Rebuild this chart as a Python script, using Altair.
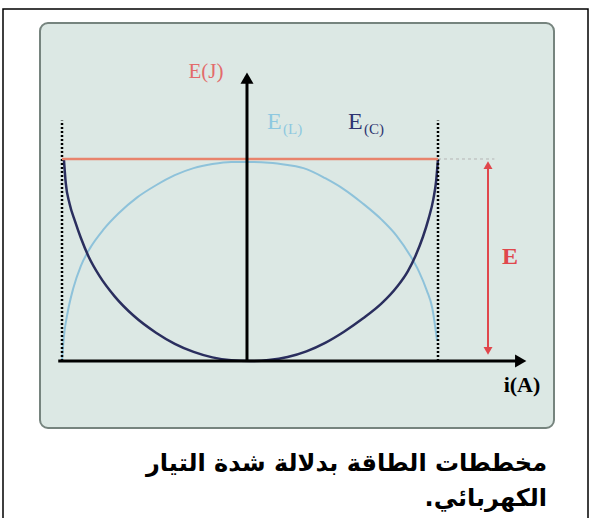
import altair as alt
import pandas as pd

# Energy curves of an LC circuit vs current (normalised: i / I_max, E / E_total)
i_cap = [-0.99, -0.98, -0.96, -0.93, -0.90, -0.86, -0.80, -0.72, -0.62, -0.50, -0.40, -0.30,
         -0.20, -0.10, 0.0, 0.10, 0.20, 0.30, 0.40, 0.50, 0.60, 0.70, 0.78, 0.84, 0.88,
         0.92, 0.95, 0.975, 0.99, 1.0]
e_cap = [1.0, 0.88, 0.78, 0.69, 0.61, 0.52, 0.42, 0.32, 0.225, 0.14, 0.085, 0.045,
         0.018, 0.004, 0.0, 0.005, 0.02, 0.048, 0.09, 0.145, 0.21, 0.285, 0.365, 0.445, 0.52,
         0.615, 0.705, 0.80, 0.89, 1.0]

i_ind = [-1.0, -0.99, -0.97, -0.94, -0.90, -0.85, -0.78, -0.70, -0.60, -0.50, -0.40, -0.30,
         -0.20, -0.10, 0.0, 0.10, 0.20, 0.30, 0.40, 0.50, 0.60, 0.70, 0.78, 0.85, 0.90,
         0.94, 0.97, 0.995]
e_ind = [0.0, 0.12, 0.24, 0.36, 0.47, 0.56, 0.65, 0.73, 0.81, 0.87, 0.92, 0.955,
         0.975, 0.985, 0.985, 0.982, 0.97, 0.95, 0.905, 0.85, 0.78, 0.70, 0.62, 0.525, 0.44,
         0.35, 0.26, 0.10]

e_total = 1.0           # total energy E
i_limits = [-1.0, 1.0]  # current extremes (dotted verticals)

caption_1 = "مخططات الطاقة بدلالة شدة التيار"
caption_2 = "الكهربائي.\u200f"

W, H = 592, 518
xs = alt.Scale(domain=[-250 / 188, 342 / 188])
ys = alt.Scale(domain=[(361 - H) / 202, 361 / 202])
X = lambda f: alt.X(f, type="quantitative", scale=xs, axis=None)
Y = lambda f: alt.Y(f, type="quantitative", scale=ys, axis=None)
X2 = lambda f: alt.X2(f)
Y2 = lambda f: alt.Y2(f)

one = pd.DataFrame({"k": [0]})

frame = alt.Chart(one).mark_rect(fill="white", stroke="black", strokeWidth=1.5).encode(
    x=alt.value(3), x2=alt.value(588), y=alt.value(9), y2=alt.value(525))
panel = alt.Chart(one).mark_rect(fill="#dce8e4", stroke="#76847e", strokeWidth=2,
                                 cornerRadius=8).encode(
    x=alt.value(40), x2=alt.value(554), y=alt.value(23), y2=alt.value(428))

cap_df = pd.DataFrame({"i": i_cap, "E": e_cap})
ind_df = pd.DataFrame({"i": i_ind, "E": e_ind})

ind_line = alt.Chart(ind_df).mark_line(color="#8ec2da", strokeWidth=2,
                                       interpolate="monotone").encode(x=X("i"), y=Y("E"))
cap_line = alt.Chart(cap_df).mark_line(color="#2a2e5e", strokeWidth=2.5,
                                       interpolate="monotone").encode(x=X("i"), y=Y("E"))

lim_df = pd.DataFrame({"i": i_limits, "lo": [0, 0], "hi": [1.19, 1.19]})
dotted = alt.Chart(lim_df).mark_rule(color="black", strokeWidth=2.5, strokeDash=[2, 2]).encode(
    x=X("i"), y=Y("lo"), y2=Y2("hi"))

tot_df = pd.DataFrame({"a": [i_limits[0]], "b": [i_limits[1]], "E": [e_total],
                       "c": [1.30]})
total_line = alt.Chart(tot_df).mark_rule(color="#e8836c", strokeWidth=2.5).encode(
    x=X("a"), x2=X2("b"), y=Y("E"))
total_ext = alt.Chart(tot_df).mark_rule(color="#b5b5b5", strokeWidth=1,
                                        strokeDash=[3, 3]).encode(
    x=X("b"), x2=X2("c"), y=Y("E"))

# axes with arrow heads
ax_df = pd.DataFrame({"x0": [-1.02], "x1": [1.44], "y0": [0.0], "y1": [1.40], "o": [-0.016]})
x_axis = alt.Chart(ax_df).mark_rule(color="black", strokeWidth=3).encode(
    x=X("x0"), x2=X2("x1"), y=Y("y0"))
y_axis = alt.Chart(ax_df).mark_rule(color="black", strokeWidth=3).encode(
    x=X("o"), y=Y("y0"), y2=Y2("y1"))
x_head = alt.Chart(ax_df).mark_point(shape="triangle-right", filled=True, color="black",
                                     size=170, opacity=1).encode(x=X("x1"), y=Y("y0"))
y_head = alt.Chart(ax_df).mark_point(shape="triangle-up", filled=True, color="black",
                                     size=170, opacity=1).encode(x=X("o"), y=Y("y1"))

# double arrow marking E
arr_df = pd.DataFrame({"i": [1.266], "lo": [0.05], "hi": [0.97]})
e_arrow = alt.Chart(arr_df).mark_rule(color="#e0474c", strokeWidth=2).encode(
    x=X("i"), y=Y("lo"), y2=Y2("hi"))
e_top = alt.Chart(arr_df).mark_point(shape="triangle-up", filled=True, color="#e0474c",
                                     size=80, opacity=1).encode(x=X("i"), y=Y("hi"))
e_bot = alt.Chart(arr_df).mark_point(shape="triangle-down", filled=True, color="#e0474c",
                                     size=80, opacity=1).encode(x=X("i"), y=Y("lo"))

def label(txt, x, y, color, size, align="center", font="Liberation Serif", weight="normal"):
    return alt.Chart(one).mark_text(text=txt, color=color, fontSize=size, font=font,
                                    align=align, baseline="middle", fontWeight=weight).encode(
        x=alt.value(x), y=alt.value(y))

labels = [
    label("E(J)", 206, 72, "#e36b6b", 21),
    label("E", 267, 122, "#8ec8e0", 24, align="left"),
    label("(L)", 283, 129, "#8ec8e0", 15, align="left"),
    label("E", 348, 122, "#2e3470", 24, align="left"),
    label("(C)", 364, 129, "#2e3470", 15, align="left"),
    label("E", 510, 257, "#e0474c", 24, weight="bold"),
    label("i(A)", 522, 385, "black", 22, weight="bold"),
    label(caption_1, 547, 464, "black", 24, align="right", font="DejaVu Sans", weight="bold"),
    label(caption_2, 547, 499, "black", 24, align="right", font="DejaVu Sans", weight="bold"),
]

chart = alt.layer(
    frame, panel, ind_line, cap_line, dotted, total_line, total_ext,
    x_axis, y_axis, x_head, y_head, e_arrow, e_top, e_bot, *labels
).properties(width=W, height=H, autosize="none", padding=0,
             background="white").configure_view(strokeWidth=0)

chart.save("out.html", embed_options={"renderer": "svg", "actions": False})
